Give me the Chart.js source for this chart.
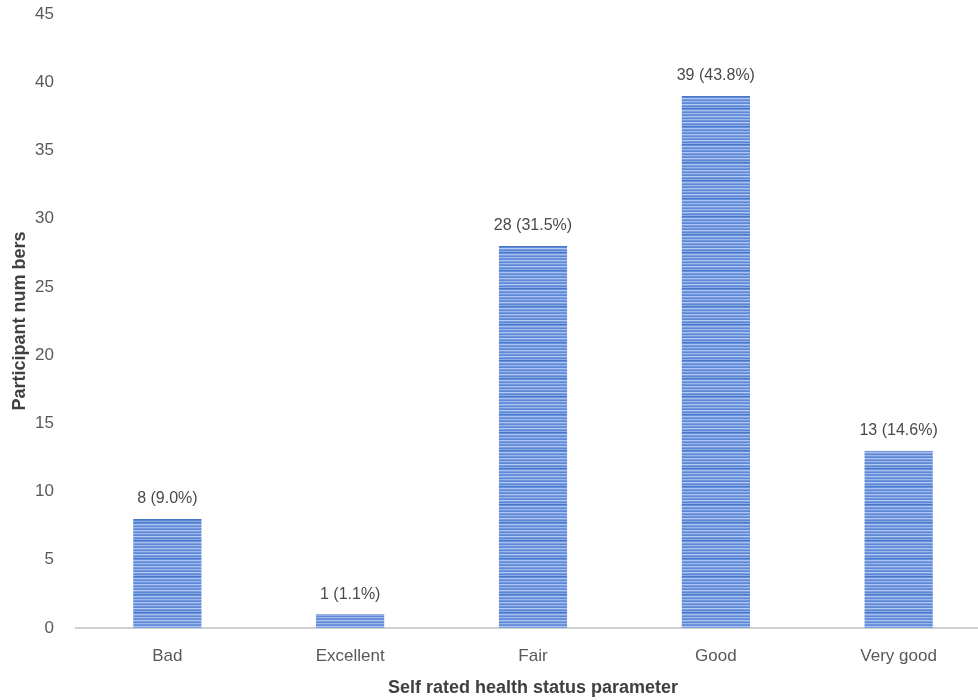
<!DOCTYPE html>
<html><head><meta charset="utf-8">
<script src="https://cdn.jsdelivr.net/npm/chart.js@4/dist/chart.umd.min.js"></script>
<style>
html,body{margin:0;padding:0;background:#fff;overflow:hidden;width:978px;height:700px;}
#wrap{width:990px;height:718px;position:absolute;left:0;top:-18px;}
</style></head>
<body><div id="wrap"><canvas id="c" width="990" height="718"></canvas></div>
<script>
const categories = ["Bad", "Excellent", "Fair", "Good", "Very good"];
const counts = [8, 1, 28, 39, 13];
const percents = ["9.0%", "1.1%", "31.5%", "43.8%", "14.6%"];
const yTicks = [0, 5, 10, 15, 20, 25, 30, 35, 40, 45];

const FONT = '"Liberation Sans", Arial, sans-serif';

function makePattern(){
  const p = document.createElement('canvas');
  p.width = 4; p.height = 18;
  const g = p.getContext('2d');
  const rows = ['#4a76c9','#6790da','#a9c2ef','#7b9de0','#5f89d7','#9ab7ec',
                '#6f95dc','#5f89d7','#adc5f0','#7b9de0','#6089d7','#9ab7ec',
                '#6f95dc','#5f89d7','#b3caf2','#7b9de0','#5a85d5','#8eaee8'];
  rows.forEach((c,i)=>{ g.fillStyle = c; g.fillRect(0,i,4,1); });
  return document.getElementById('c').getContext('2d').createPattern(p,'repeat');
}

const labelPlugin = {
  id:'barLabels',
  afterDatasetsDraw(chart){
    const ctx = chart.ctx;
    const meta = chart.getDatasetMeta(0);
    ctx.save();
    ctx.font = '16px ' + FONT;
    ctx.fillStyle = '#4a4a4a';
    ctx.textAlign = 'center';
    ctx.textBaseline = 'middle';
    meta.data.forEach((bar,i)=>{
      ctx.fillText(counts[i] + ' (' + percents[i] + ')', bar.x, bar.y - 20);
    });
    ctx.restore();
  }
};

new Chart(document.getElementById('c'), {
  type:'bar',
  data:{labels:categories, datasets:[{data:counts, backgroundColor:makePattern(), borderColor:'#4a76c9', borderWidth:{top:1,left:0,right:0,bottom:0}, borderSkipped:'bottom', categoryPercentage:1, barPercentage:0.375}]},
  options:{
    responsive:false, animation:false,
    layout:{padding:{top:0,right:0,bottom:0,left:0}},
    plugins:{legend:{display:false}, tooltip:{enabled:false}},
    scales:{
      x:{
        grid:{display:false, drawTicks:false},
        border:{display:true, color:'#d0d0d0', width:2},
        ticks:{color:'#595959', font:{size:17, family:FONT}, padding:18},
        title:{display:true, text:'Self rated health status parameter', color:'#404040', font:{size:18, weight:'bold', family:FONT}, padding:{top:4,bottom:1}},
        afterFit(s){ s.height = 72; }
      },
      y:{
        min:0, max:45,
        grid:{display:false, drawTicks:false},
        border:{display:false},
        afterBuildTicks(s){ s.ticks = yTicks.map(v=>({value:v})); },
        ticks:{color:'#595959', font:{size:17, family:FONT}, padding:22},
        title:{display:true, text:'Participant num bers', color:'#404040', font:{size:18, weight:'bold', family:FONT}, padding:{top:9,bottom:0}},
        afterFit(s){ s.width = 76; }
      }
    }
  },
  plugins:[labelPlugin]
});
</script></body></html>
